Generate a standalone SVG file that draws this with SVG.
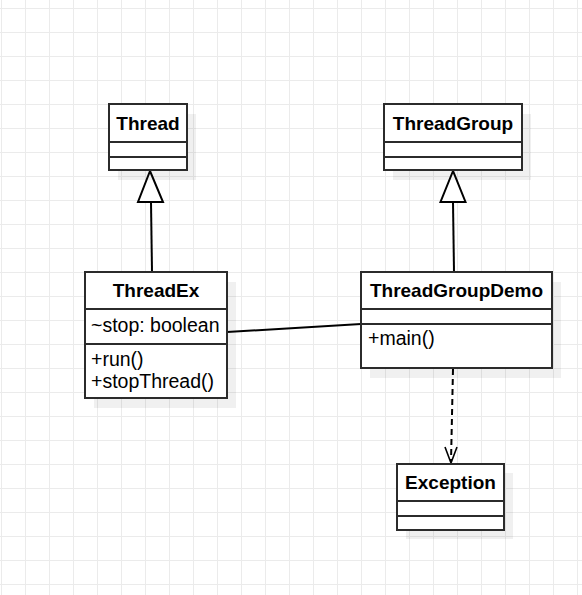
<svg xmlns="http://www.w3.org/2000/svg" width="582" height="595" viewBox="0 0 582 595">
<defs>
<pattern id="grid" x="1" y="8" width="24" height="24" patternUnits="userSpaceOnUse">
<path d="M0.5 0V24M0 0.5H24" fill="none" stroke="#ebebeb" stroke-width="1"/>
</pattern>
</defs>
<style>
.box{fill:#fff;stroke:#2b2b2b;stroke-width:2}
.sh{fill:#000;fill-opacity:0.06}
.div{stroke:#2b2b2b;stroke-width:2}
.h{font-family:"Liberation Sans",Arial,sans-serif;font-size:19px;font-weight:bold;text-anchor:middle;fill:#000}
.t{font-family:"Liberation Sans",Arial,sans-serif;font-size:19.5px;fill:#000}
.ln{fill:none;stroke:#000;stroke-width:2}
.tri{fill:#fff;stroke:#000;stroke-width:2;stroke-linejoin:miter}
.open{fill:none;stroke:#000;stroke-width:1.6}
</style>
<rect width="582" height="595" fill="#fff"/>
<rect width="582" height="595" fill="url(#grid)"/>
<g id="connectors">
<path class="ln" d="M152 272L151 202"/>
<path class="tri" d="M150 171L138 202H163Z"/>
<path class="ln" d="M454 272L453 202"/>
<path class="tri" d="M453 171L440.5 202H465.5Z"/>
<path class="ln" d="M227 332L361 324"/>
<path class="ln" d="M453 369L451 462" stroke-dasharray="6 4"/>
<path class="open" d="M445 447L451 463L457 447"/>
</g>
<g id="Thread">
<rect class="sh" x="118" y="114" width="78" height="66"/>
<rect class="box" x="109" y="104" width="78" height="66"/>
<line class="div" x1="109" y1="142" x2="187" y2="142"/>
<line class="div" x1="109" y1="157" x2="187" y2="157"/>
<text class="h" x="148" y="130">Thread</text>
</g>
<g id="ThreadGroup">
<rect class="sh" x="393" y="114" width="138" height="66"/>
<rect class="box" x="384" y="104" width="138" height="66"/>
<line class="div" x1="384" y1="142" x2="522" y2="142"/>
<line class="div" x1="384" y1="157" x2="522" y2="157"/>
<text class="h" x="453" y="130">ThreadGroup</text>
</g>
<g id="ThreadEx">
<rect class="sh" x="94" y="282" width="142" height="126"/>
<rect class="box" x="85" y="272" width="142" height="126"/>
<line class="div" x1="85" y1="309" x2="227" y2="309"/>
<line class="div" x1="85" y1="344" x2="227" y2="344"/>
<text class="h" x="156" y="297">ThreadEx</text>
<text class="t" x="91" y="332">~stop: boolean</text>
<text class="t" x="91" y="366">+run()</text>
<text class="t" x="91" y="388">+stopThread()</text>
</g>
<g id="ThreadGroupDemo">
<rect class="sh" x="370" y="282" width="191" height="96"/>
<rect class="box" x="361" y="272" width="191" height="96"/>
<line class="div" x1="361" y1="309" x2="552" y2="309"/>
<line class="div" x1="361" y1="324" x2="552" y2="324"/>
<text class="h" x="456.5" y="297">ThreadGroupDemo</text>
<text class="t" x="368" y="345">+main()</text>
</g>
<g id="Exception">
<rect class="sh" x="406" y="473" width="107" height="66"/>
<rect class="box" x="397" y="464" width="107" height="66"/>
<line class="div" x1="397" y1="501" x2="504" y2="501"/>
<line class="div" x1="397" y1="516" x2="504" y2="516"/>
<text class="h" x="450.5" y="489">Exception</text>
</g>
</svg>
